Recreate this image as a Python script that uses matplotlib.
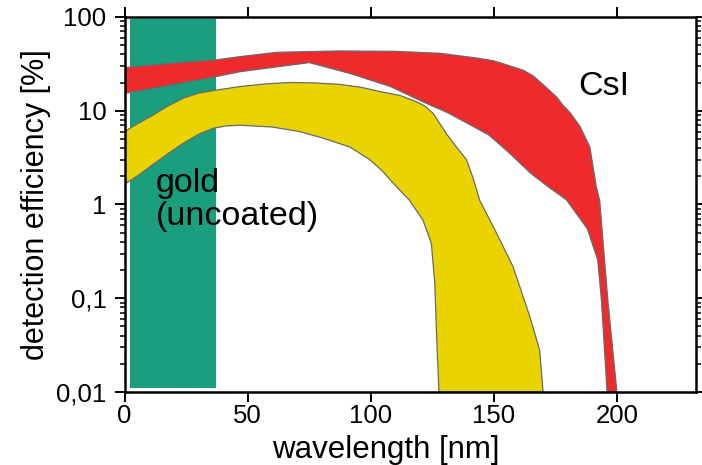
import matplotlib
matplotlib.use("Agg")
import matplotlib.pyplot as plt
from matplotlib.ticker import FixedLocator, LogLocator, FixedFormatter, NullFormatter

plt.rcParams['font.family'] = ['Liberation Sans', 'DejaVu Sans']

# CsI-coated detector: efficiency band (upper / lower edge)
csi_upper_nm = [0, 10, 25, 37, 47, 62, 87, 110, 128, 144, 150, 155, 162, 166, 170, 175.5, 178, 181, 185, 189, 191.6, 193, 196.3, 200]
csi_upper_eff = [28.8, 30.5, 33, 34.8, 37.8, 42, 43.4, 43, 41, 36.2, 34, 31, 27, 23.5, 19, 14, 11.5, 9.5, 6.8, 4.1, 1.55, 1.1, 0.096, 0.01]
csi_lower_nm = [0, 37, 47, 75, 91.5, 108, 122.5, 131, 139, 148, 156, 165, 172, 179.5, 188, 192.2, 193.7, 196]
csi_lower_eff = [15.3, 23.1, 26.1, 32.6, 25, 18.1, 12, 9.6, 7.4, 5.5, 3.6, 2.15, 1.55, 1.12, 0.55, 0.256, 0.096, 0.01]

# uncoated gold detector: efficiency band (upper / lower edge)
gold_upper_nm = [0, 5, 10.3, 17, 23.8, 30, 37.3, 46.8, 57, 67, 77, 87.4, 96, 103.7, 111.7, 118.5, 122, 125.3, 130.9, 134.8, 138.9, 141.6, 144.3, 151, 157.8, 164.6, 168.6, 170]
gold_upper_eff = [6.0, 7.2, 8.6, 11.0, 13.6, 15.4, 16.6, 18.1, 19.3, 20, 19.8, 19.1, 17.8, 16, 14.6, 12.5, 11.2, 9.4, 5.6, 4.1, 3.0, 1.9, 1.1, 0.5, 0.217, 0.064, 0.028, 0.01]
gold_lower_nm = [0, 5, 10.3, 17, 23.8, 30, 36, 41.4, 47, 60, 71, 80.6, 91.5, 99.6, 104.5, 109, 115.8, 121.2, 124.6, 126, 126.7, 127.7]
gold_lower_eff = [1.65, 2.0, 2.53, 3.4, 4.5, 5.6, 6.5, 6.9, 7.0, 6.7, 6.0, 5.1, 4.1, 3.0, 2.3, 1.7, 1.1, 0.68, 0.385, 0.144, 0.042, 0.01]

# highlighted wavelength range
band_start_nm, band_end_nm = 2.2, 37

x_ticks = [0, 50, 100, 150, 200]
y_ticks = [0.01, 0.1, 1, 10, 100]
y_tick_labels = ['0,01', '0,1', '1', '10', '100']

fig = plt.figure(figsize=(7.02, 4.65), dpi=100)
ax = fig.add_axes([0.1776, 0.157, 0.8134, 0.8065])
ax.set_yscale('log')
ax.set_xlim(0, 232)
ax.set_ylim(0.01, 100)

ax.axvspan(band_start_nm, band_end_nm, ymin=0.011, ymax=0.995,
           color='#1a9e7e', lw=0, zorder=1)

edge = '#6a6a6a'
ax.fill(csi_upper_nm + csi_lower_nm[::-1], csi_upper_eff + csi_lower_eff[::-1],
        facecolor='#ee2a2d', edgecolor=edge, lw=0.9, zorder=2)
ax.fill(gold_upper_nm + gold_lower_nm[::-1], gold_upper_eff + gold_lower_eff[::-1],
        facecolor='#ead400', edgecolor=edge, lw=0.9, zorder=2)

ax.text(0.0548, 0.445, 'gold\n(uncoated)', transform=ax.transAxes,
        fontsize=24.5, ha='left', va='baseline', linespacing=1.1, zorder=3)
ax.text(0.794, 0.792, 'CsI', transform=ax.transAxes,
        fontsize=24.5, ha='left', va='baseline', zorder=3)

for s in ax.spines.values():
    s.set_linewidth(1.8)
    s.set_zorder(4)

ax.xaxis.set_major_locator(FixedLocator(x_ticks))
ax.xaxis.set_minor_locator(FixedLocator([]))
ax.yaxis.set_major_locator(FixedLocator(y_ticks))
ax.yaxis.set_major_formatter(FixedFormatter(y_tick_labels))
ax.yaxis.set_minor_locator(LogLocator(base=10, subs=range(2, 10)))
ax.yaxis.set_minor_formatter(NullFormatter())

ax.tick_params(axis='x', which='major', direction='out', length=7, width=1.4,
               top=True, labelsize=18.5, pad=2)
ax.tick_params(axis='y', which='major', direction='out', length=7, width=1.4,
               right=True, labelsize=18.5, pad=6)
ax.tick_params(axis='y', which='minor', direction='out', length=3.5, width=1.1,
               right=True)

ax.set_xlabel('wavelength [nm]', fontsize=22.5, labelpad=0)
ax.xaxis.set_label_coords(0.458, -0.115)
ax.set_ylabel('detection efficiency [%]', fontsize=22, labelpad=4)

fig.savefig('out.png', dpi=100)
